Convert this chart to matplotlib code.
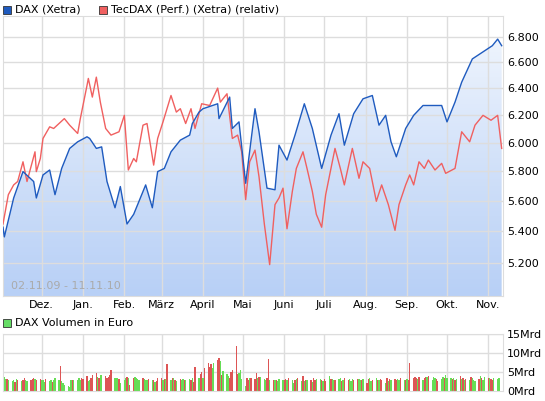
import matplotlib
matplotlib.use("Agg")
import matplotlib.pyplot as plt
import matplotlib.dates as mdates
import numpy as np
import pandas as pd

dax_dates = ["2009-11-02", "2009-11-03", "2009-11-10", "2009-11-17", "2009-11-25", "2009-11-27",
             "2009-12-02", "2009-12-07", "2009-12-11", "2009-12-16", "2009-12-22", "2009-12-28",
             "2010-01-04", "2010-01-06", "2010-01-11", "2010-01-15", "2010-01-19", "2010-01-25",
             "2010-01-29", "2010-02-03", "2010-02-08", "2010-02-12", "2010-02-17", "2010-02-22",
             "2010-02-26", "2010-03-03", "2010-03-08", "2010-03-15", "2010-03-22", "2010-03-24",
             "2010-03-29", "2010-04-01", "2010-04-12", "2010-04-13", "2010-04-21", "2010-04-23",
             "2010-04-28", "2010-05-03", "2010-05-10", "2010-05-13", "2010-05-19", "2010-05-25",
             "2010-05-28", "2010-06-03", "2010-06-09", "2010-06-16", "2010-06-22", "2010-06-29",
             "2010-07-06", "2010-07-12", "2010-07-16", "2010-07-23", "2010-07-30", "2010-08-06",
             "2010-08-11", "2010-08-16", "2010-08-20", "2010-08-24", "2010-08-31", "2010-09-06",
             "2010-09-13", "2010-09-20", "2010-09-27", "2010-10-01", "2010-10-07", "2010-10-12",
             "2010-10-20", "2010-11-04", "2010-11-08", "2010-11-11"]
dax_values = [5426, 5364, 5618, 5797, 5729, 5618,
              5774, 5808, 5640, 5819, 5959, 6006,
              6042, 6030, 5959, 5970, 5729, 5553,
              5695, 5447, 5510, 5596, 5706, 5553,
              5797, 5819, 5935, 6018, 6054, 6138,
              6222, 6247, 6284, 6174, 6334, 6102,
              6150, 5717, 6247, 6078, 5684, 5673,
              5982, 5877, 6054, 6284, 6102, 5819,
              6054, 6210, 5982, 6210, 6321, 6346,
              6126, 6198, 6006, 5900, 6102, 6198,
              6271, 6271, 6271, 6150, 6296, 6447,
              6628, 6733, 6786, 6733]

tec_dates = ["2009-11-02", "2009-11-06", "2009-11-10", "2009-11-13", "2009-11-17", "2009-11-20",
             "2009-11-26", "2009-11-27", "2009-11-30", "2009-12-02", "2009-12-07", "2009-12-10",
             "2009-12-18", "2009-12-22", "2009-12-28", "2009-12-30", "2010-01-04", "2010-01-05",
             "2010-01-08", "2010-01-11", "2010-01-14", "2010-01-18", "2010-01-22", "2010-01-28",
             "2010-02-01", "2010-02-04", "2010-02-08", "2010-02-10", "2010-02-15", "2010-02-18",
             "2010-02-23", "2010-02-26", "2010-03-02", "2010-03-08", "2010-03-12", "2010-03-15",
             "2010-03-19", "2010-03-23", "2010-03-26", "2010-03-31", "2010-04-06", "2010-04-12",
             "2010-04-14", "2010-04-19", "2010-04-23", "2010-04-27", "2010-04-30", "2010-05-03",
             "2010-05-06", "2010-05-10", "2010-05-13", "2010-05-17", "2010-05-21", "2010-05-25",
             "2010-05-28", "2010-05-31", "2010-06-03", "2010-06-07", "2010-06-10", "2010-06-15",
             "2010-06-18", "2010-06-22", "2010-06-25", "2010-06-29", "2010-07-02", "2010-07-09",
             "2010-07-13", "2010-07-16", "2010-07-22", "2010-07-27", "2010-07-30", "2010-08-04",
             "2010-08-09", "2010-08-13", "2010-08-18", "2010-08-23", "2010-08-26", "2010-08-31",
             "2010-09-03", "2010-09-06", "2010-09-10", "2010-09-14", "2010-09-17", "2010-09-22",
             "2010-09-27", "2010-09-30", "2010-10-07", "2010-10-12", "2010-10-18", "2010-10-22",
             "2010-10-28", "2010-11-03", "2010-11-08", "2010-11-11"]
tec_values = [5447, 5640, 5706, 5729, 5865, 5729,
              5935, 5797, 5888, 6030, 6114, 6102,
              6174, 6126, 6066, 6174, 6422, 6476,
              6334, 6486, 6296, 6102, 6054, 6078,
              6198, 5808, 5888, 5865, 6126, 6138,
              5842, 6030, 6150, 6346, 6222, 6247,
              6138, 6247, 6102, 6284, 6271, 6402,
              6296, 6359, 6030, 6054, 5935, 5607,
              5865, 5947, 5762, 5447, 5190, 5574,
              5618, 5684, 5416, 5662, 5819, 5935,
              5819, 5662, 5510, 5426, 5640, 5959,
              5819, 5706, 5959, 5751, 5865, 5819,
              5596, 5706, 5574, 5406, 5574, 5706,
              5774, 5706, 5865, 5819, 5877, 5808,
              5854, 5785, 5819, 6078, 6006, 6126,
              6198, 6162, 6198, 5959]

# daily volume in Mrd Euro, business days from 02.11.09
volume = [3.0, 3.6, 3.1, 3.2, 2.8, 2.7, 3.0, 2.5, 3.1, 2.8,
          2.6, 3.0, 3.5, 2.8, 2.6, 2.9, 3.2, 3.3, 3.2, 3.0,
          3.1, 2.8, 2.9, 2.5, 3.1, 2.7, 2.9, 2.5, 2.9, 3.3,
          3.0, 6.5, 2.7, 2.2, 1.5, 1.2, 1.0, 2.8, 3.0, 2.8,
          3.0, 3.3, 2.9, 3.5, 3.2, 4.0, 2.6, 3.0, 3.4, 4.2,
          4.8, 3.8, 3.5, 4.3, 4.3, 4.0, 3.3, 3.6, 4.2, 5.5,
          3.3, 3.5, 3.5, 3.1, 2.2, 3.0, 3.4, 3.6, 3.5, 1.5,
          3.3, 3.8, 3.4, 3.2, 3.0, 3.4, 3.1, 2.9, 3.0, 3.2,
          2.9, 2.8, 2.5, 2.7, 3.3, 3.4, 2.9, 3.1, 3.2, 7.0,
          2.9, 3.3, 3.5, 3.0, 2.7, 3.1, 2.8, 3.2, 3.0, 2.9,
          3.1, 2.8, 3.3, 2.5, 6.3, 3.4, 4.5, 4.9, 3.5, 6.0,
          7.4, 6.4, 7.0, 6.0, 7.4, 8.2, 8.7, 7.9, 4.3, 5.2,
          4.5, 3.9, 3.3, 5.0, 5.5, 11.8, 4.5, 4.7, 5.5, 3.1,
          1.2, 3.4, 2.9, 3.3, 3.5, 3.2, 4.7, 3.5, 3.6, 3.6,
          3.1, 3.0, 3.3, 8.3, 3.0, 2.8, 2.8, 3.0, 2.7, 3.2,
          2.9, 2.8, 3.2, 2.9, 3.4, 3.0, 2.1, 2.9, 3.1, 3.3,
          2.6, 3.9, 2.6, 2.9, 3.0, 2.8, 2.5, 3.3, 2.8, 3.1,
          3.1, 3.0, 2.6, 3.2, 2.7, 3.9, 3.1, 3.2, 3.0, 2.9,
          3.1, 3.4, 2.7, 3.0, 3.3, 2.9, 3.2, 2.6, 3.1, 3.0,
          3.2, 3.1, 3.0, 2.8, 3.1, 2.2, 3.2, 3.5, 2.6, 3.0,
          3.3, 3.0, 2.8, 3.2, 3.0, 2.0, 3.3, 2.7, 3.2, 3.0,
          3.1, 2.9, 3.2, 2.9, 3.4, 3.0, 2.8, 3.2, 3.0, 7.3,
          3.3, 3.8, 3.4, 3.2, 3.6, 3.0, 3.3, 3.6, 3.8, 4.0,
          3.0, 3.6, 3.5, 3.2, 2.7, 3.1, 3.8, 3.5, 4.2, 3.3,
          3.3, 3.1, 3.4, 2.8, 3.2, 3.9, 3.2, 3.4, 3.0, 3.1,
          2.9, 3.6, 3.3, 3.0, 2.6, 3.2, 4.0, 3.5, 3.0, 3.8,
          3.3, 3.5, 3.1, 3.0, 3.3, 3.2, 3.4]
volume_up = ("rggrgggrgr" "grrggrrrgr" "rgggrggrgg" "grggggggrg" "gggrrrggrr"
             "rgrggrrrrr" "gggrgggrgr" "rggggrgggr" "grgrrrgrgr" "grgrgrggrg"
             "grgrrgrrgr" "rrrggrrgrg" "ggrrrrrggg" "grrgrrrgrg" "ggrrgrgrgg"
             "grrgrggrgr" "grgrgrgrrg" "grgrrgrggr" "ggrgrrgggr" "rggrgrrggr"
             "grgrrgrgrg" "rrggrgrgrr" "rrrgrgrrgr" "gggrrggrgg" "grgrgrgrgr"
             "grgggrgrgg" "rgrrggg")

month_labels = ["Dez.", "Jan.", "Feb.", "März", "April", "Mai", "Juni", "Juli",
                "Aug.", "Sep.", "Okt.", "Nov."]
price_ticks = [5200, 5400, 5600, 5800, 6000, 6200, 6400, 6600, 6800]

blue = "#1f5bbf"
red = "#f06060"
grid = "#dddddd"

dax_x = mdates.date2num(pd.to_datetime(dax_dates))
tec_x = mdates.date2num(pd.to_datetime(tec_dates))
vol_dates = pd.bdate_range("2009-11-02", periods=len(volume))
vol_x = mdates.date2num(vol_dates)
month_x = mdates.date2num(pd.date_range("2009-12-01", periods=12, freq="MS"))
x0 = mdates.date2num(pd.Timestamp("2009-11-02"))
x1 = mdates.date2num(pd.Timestamp("2010-11-12"))
ylo, yhi = 5000, 6975

fig = plt.figure(figsize=(5.45, 4.01), dpi=100)
ax = fig.add_axes([3/545, 1 - 296/401, 500/545, 280/401])
ax.set_yscale("log")
ax.set_xlim(x0, x1)
ax.set_ylim(ylo, yhi)

# gradient fill under DAX
grad = np.linspace(0, 1, 256).reshape(-1, 1)
cmap = matplotlib.colors.LinearSegmentedColormap.from_list("g", ["#b8d0f6", "#f4f8fe"])
img = ax.imshow(grad, extent=[x0, x1, ylo, yhi], origin="lower", aspect="auto",
                cmap=cmap, zorder=1)
poly = ax.fill_between(dax_x, dax_values, ylo, color="none")
img.set_clip_path(poly.get_paths()[0], transform=ax.transData)
poly.remove()

for m in month_x:
    ax.axvline(m, color=grid, lw=1, zorder=2)
for t in price_ticks:
    ax.axhline(t, color=grid, lw=1, zorder=2)
ax.plot(tec_x, tec_values, color=red, lw=1, zorder=3)
ax.plot(dax_x, dax_values, color=blue, lw=1, zorder=4)

ax.yaxis.tick_right()
ax.set_yticks(price_ticks)
ax.set_yticklabels([f"{t:,}".replace(",", ".") for t in price_ticks])
ax.yaxis.set_minor_locator(matplotlib.ticker.NullLocator())
ax.set_xticks(month_x)
ax.set_xticklabels(month_labels)
ax.tick_params(length=0, labelsize=8, pad=3)
for s in ax.spines.values():
    s.set_color(grid)
ax.text(8/500, 7/280, "02.11.09 - 11.11.10", transform=ax.transAxes, fontsize=8,
        color="#aaaaaa", zorder=5)

# legends
fig.patches.append(matplotlib.patches.Rectangle((3/545, 1 - 14/401), 8/545, 8/401,
                   transform=fig.transFigure, fc=blue, ec="#333333", lw=0.6))
fig.text(15/545, 1 - 10/401, "DAX (Xetra)", fontsize=8, va="center")
fig.patches.append(matplotlib.patches.Rectangle((99/545, 1 - 14/401), 8/545, 8/401,
                   transform=fig.transFigure, fc=red, ec="#333333", lw=0.6))
fig.text(111/545, 1 - 10/401, "TecDAX (Perf.) (Xetra) (relativ)", fontsize=8, va="center")
fig.patches.append(matplotlib.patches.Rectangle((3/545, 1 - 327/401), 8/545, 8/401,
                   transform=fig.transFigure, fc="#66dd66", ec="#333333", lw=0.6))
fig.text(15/545, 1 - 323/401, "DAX Volumen in Euro", fontsize=8, va="center")

# volume panel
vx = fig.add_axes([3/545, 1 - 391/401, 500/545, 57/401])
vx.set_xlim(x0, x1)
vx.set_ylim(0, 15)
for m in month_x:
    vx.axvline(m, color=grid, lw=1, zorder=0)
for t in [5, 10, 15]:
    vx.axhline(t, color=grid, lw=1, zorder=0)
colors = ["#66dd55" if c == "g" else "#dd5555" for c in volume_up]
vx.bar(vol_x, volume, width=0.8, color=colors, zorder=2)
vx.yaxis.tick_right()
vx.set_yticks([0, 5, 10, 15])
vx.set_yticklabels(["0Mrd", "5Mrd", "10Mrd", "15Mrd"])
vx.set_xticks([])
vx.tick_params(length=0, labelsize=8, pad=3)
for s in vx.spines.values():
    s.set_color(grid)

fig.savefig("out.png", dpi=100)
